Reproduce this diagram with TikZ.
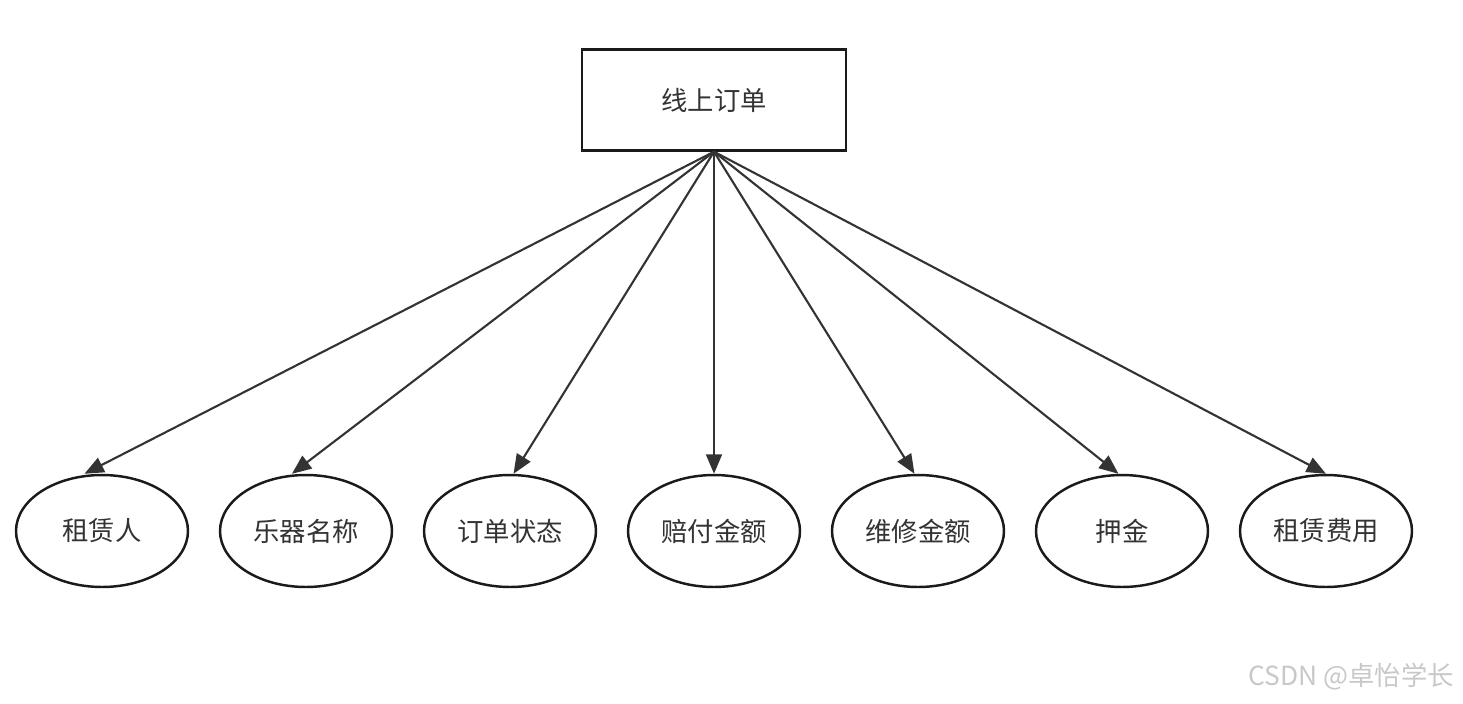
\documentclass[tikz,border=0pt]{standalone}
\usepackage{fontspec}
\setmainfont{Noto Sans CJK SC}
\usepackage{xcolor}
\usetikzlibrary{positioning, arrows.meta, shapes.geometric}
\definecolor{edgegray}{RGB}{51, 51, 51}
\definecolor{outline}{RGB}{26, 26, 26}
\definecolor{marktext}{RGB}{200, 200, 200}

\begin{document}
\begin{tikzpicture}[
  x=0.02cm, y=-0.02cm,
  entitybox/.style={rectangle, draw=outline, line width=1.4pt, minimum width=5.28cm, minimum height=2.02cm, font=\fontsize{15}{18}\selectfont, text=edgegray},
  attrnode/.style={ellipse, draw=outline, line width=1.4pt, minimum width=3.44cm, minimum height=2.24cm, inner sep=0, font=\fontsize{15}{18}\selectfont, text=edgegray},
  link/.style={draw=edgegray, line width=1.2pt, -{Triangle[length=11pt, width=9pt]}},
]
\useasboundingbox (0, 0) rectangle (1463, 703);

% ==================== Entity ====================
\node[entitybox] (order) at (714, 100) {线上订单};

% ==================== Attributes ====================
\node[attrnode] (renter)  at (102, 531)  {租赁人};
\node[attrnode] (instr)   at (306, 531)  {乐器名称};
\node[attrnode] (status)  at (510, 531)  {订单状态};
\node[attrnode] (comp)    at (714, 531)  {赔付金额};
\node[attrnode] (repair)  at (918, 531)  {维修金额};
\node[attrnode] (deposit) at (1122, 531) {押金};
\node[attrnode] (fee)     at (1326, 531) {租赁费用};

% ==================== Links ====================
\draw[link] (order.south) -- ([xshift=-10]renter.north);
\draw[link] (order.south) -- ([xshift=-8]instr.north);
\draw[link] (order.south) -- ([xshift=2]status.north);
\draw[link] (order.south) -- (comp.north);
\draw[link] (order.south) -- ([xshift=-2]repair.north);
\draw[link] (order.south) -- ([xshift=-2]deposit.north);
\draw[link] (order.south) -- (fee.north);

% ==================== Watermark ====================
\node[font=\fontsize{15}{18}\selectfont, text=marktext, anchor=east] (mark) at (1460, 677) {CSDN @卓怡学长};

\end{tikzpicture}
\end{document}
